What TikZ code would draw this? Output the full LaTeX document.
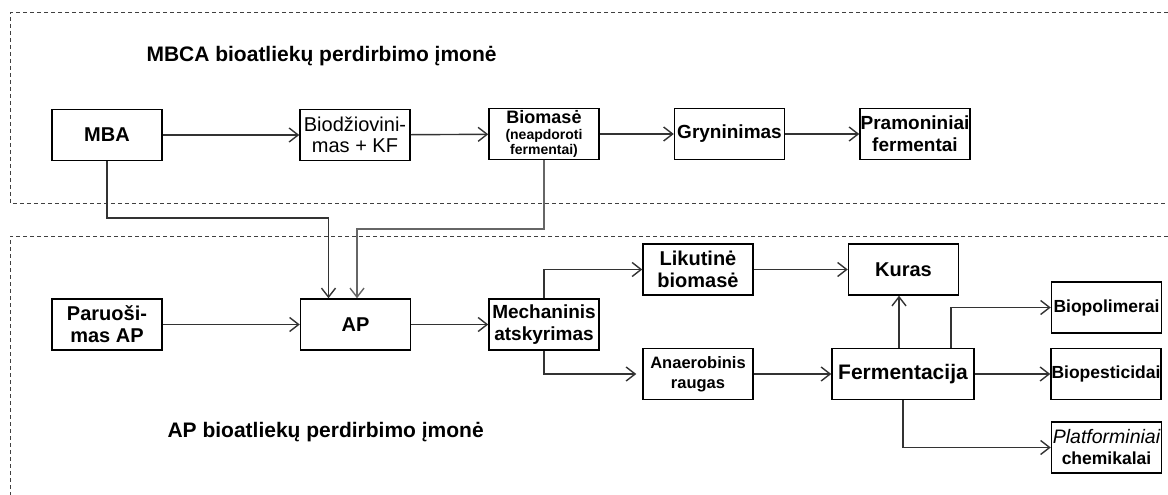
\documentclass[tikz,border=0pt]{standalone}
\usepackage{fontspec}
\setmainfont{Liberation Sans}
\usetikzlibrary{arrows.meta}

\begin{document}
\begin{tikzpicture}[x=1pt,y=-1pt,>={Straight Barb[length=9pt,width=14pt]},
  main node/.style={draw,line width=1.5pt,minimum width=110pt,minimum height=51pt,
    inner sep=0.5pt,align=center,font=\bfseries\fontsize{19}{22}\selectfont},
  flow/.style={->,line width=1.4pt,draw=black!80},
  plant/.style={draw=black!75,line width=1pt,dash pattern=on 4pt off 3pt},
  title/.style={anchor=base west,font=\bfseries\fontsize{21}{24}\selectfont}]

  \useasboundingbox (0,0) rectangle (1168,495);

  % the two plants
  \draw[plant] (1168,13) -- (10,13) -- (10,203) -- (1168,203);
  \draw[plant] (1168,236) -- (10,236) -- (10,495);
  \node[title] (t1) at (143,62) {MBCA bioatliekų perdirbimo įmonė};
  \node[title] (t2) at (164,437) {AP bioatliekų perdirbimo įmonė};

  % MBCA line
  \node[main node] (1) at (107,135) [font=\bfseries\fontsize{20}{22}\selectfont] {MBA};
  \node[main node] (2) at (355,135) [font=\fontsize{20}{21}\selectfont] {Biodžiovini-\\mas + KF};
  \node[main node] (3) at (544,134) [font=\bfseries\fontsize{14}{15}\selectfont]
    {{\fontsize{18}{18}\selectfont Biomasė}\\[1pt](neapdoroti\\fermentai)};
  \node[main node] (4) at (729.5,134) {Gryninimas};
  \node[main node] (5) at (915,134) {Pramoniniai\\fermentai};

  % AP line
  \node[main node] (6) at (107,324.5) [font=\bfseries\fontsize{20}{22}\selectfont] {Paruoši-\\mas AP};
  \node[main node] (7) at (355.5,324.5) [font=\bfseries\fontsize{20}{22}\selectfont] {AP};
  \node[main node] (8) at (544,324.5) {Mechaninis\\atskyrimas};
  \node[main node] (9) at (698,269.5) [font=\bfseries\fontsize{20}{22}\selectfont] {Likutinė\\biomasė};
  \node[main node] (11) at (903.5,269.5) [font=\bfseries\fontsize{20}{22}\selectfont] {Kuras};
  \node[main node] (10) at (698,374) [font=\bfseries\fontsize{16.5}{20}\selectfont] {Anaerobinis\\raugas};
  \node[main node] (12) at (903,374) [minimum width=142pt,font=\bfseries\fontsize{21}{24}\selectfont] {Fermentacija};
  \node[main node] (13) at (1106.5,307.5) [font=\bfseries\fontsize{17.5}{21}\selectfont] {Biopolimerai};
  \node[main node] (14) at (1106,374) [font=\bfseries\fontsize{17.5}{21}\selectfont] {Biopesticidai};
  \node[main node] (15) at (1106.5,447.5) [font=\bfseries\fontsize{17.5}{21}\selectfont] {{\mdseries\itshape\fontsize{19.5}{21}\selectfont Platforminiai}\\chemikalai};

  \path[flow]
  (1) edge (2)
  (2) edge (3)
  (3) edge (4)
  (4) edge (5)
  (6) edge (7)
  (7) edge (8)
  (9) edge (11)
  (10) edge (12)
  (12) edge (14);

  \draw[flow] (1.south) -- (107,218) -| ([xshift=-27pt]7.north);
  \draw[flow,draw=black!60] (3.south) -- (544,229) -| ([xshift=1.5pt]7.north);
  \draw[flow] (8.north) |- (9);
  \draw[flow,shorten >=6pt] (8.south) |- (10);
  \draw[flow] ([xshift=-4pt]12.north) -- ([xshift=-4.5pt]11.south);
  \draw[flow] ([xshift=48pt]12.north) |- (13);
  \draw[flow] (12.south) |- (15);
\end{tikzpicture}
\end{document}
